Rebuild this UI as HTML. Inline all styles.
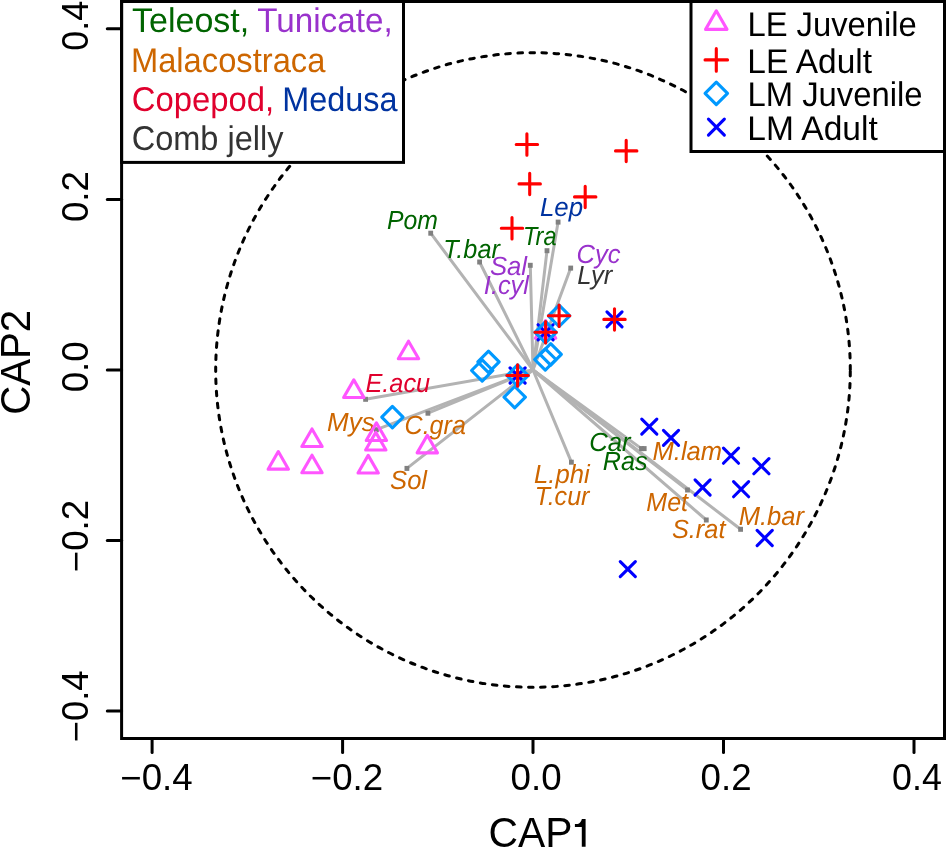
<!DOCTYPE html>
<html><head><meta charset="utf-8"><style>
html,body{margin:0;padding:0;background:#fff;width:946px;height:848px;overflow:hidden}
svg{display:block;will-change:transform}
text{font-family:"Liberation Sans",sans-serif}
.gp text{text-rendering:geometricPrecision}
</style></head><body>
<svg width="946" height="848" viewBox="0 0 946 848">
<rect x="0" y="0" width="946" height="848" fill="#fff"/>

<path d="M850.3 370A317.3 317.3 0 0 0 215.7 370A317.3 317.3 0 0 0 850.3 370" fill="none" stroke="#000" stroke-width="3" stroke-dasharray="4.6 7.515" stroke-linecap="round"/>
<g stroke="#B3B3B3" stroke-width="3" stroke-linecap="round">
<line x1="533" y1="370" x2="430.7" y2="233.2"/>
<line x1="533" y1="370" x2="479.6" y2="262"/>
<line x1="533" y1="370" x2="530.3" y2="265.3"/>
<line x1="533" y1="370" x2="547" y2="250.7"/>
<line x1="533" y1="370" x2="558.1" y2="222.1"/>
<line x1="533" y1="370" x2="570.7" y2="268.1"/>
<line x1="533" y1="370" x2="365.6" y2="399.3"/>
<line x1="533" y1="370" x2="376.4" y2="429.7"/>
<line x1="533" y1="370" x2="427.9" y2="413.2"/>
<line x1="533" y1="370" x2="406.9" y2="468.4"/>
<line x1="533" y1="370" x2="571.4" y2="462.2"/>
<line x1="533" y1="370" x2="641.5" y2="448.6"/>
<line x1="533" y1="370" x2="687.5" y2="490"/>
<line x1="533" y1="370" x2="706.3" y2="520"/>
<line x1="533" y1="370" x2="740.6" y2="529.3"/>
</g>
<rect x="428.3" y="230.7" width="4.8" height="5" fill="#808080"/>
<rect x="477.2" y="259.5" width="4.8" height="5" fill="#808080"/>
<rect x="527.9" y="262.8" width="4.8" height="5" fill="#808080"/>
<rect x="544.6" y="248.2" width="4.8" height="5" fill="#808080"/>
<rect x="555.7" y="219.6" width="4.8" height="5" fill="#808080"/>
<rect x="568.3" y="265.6" width="4.8" height="5" fill="#808080"/>
<rect x="363.2" y="396.8" width="4.8" height="5" fill="#808080"/>
<rect x="374" y="427.2" width="4.8" height="5" fill="#808080"/>
<rect x="425.5" y="410.7" width="4.8" height="5" fill="#808080"/>
<rect x="404.5" y="465.9" width="4.8" height="5" fill="#808080"/>
<rect x="569" y="459.7" width="4.8" height="5" fill="#808080"/>
<rect x="639.1" y="446.1" width="4.8" height="5" fill="#808080"/>
<rect x="685.1" y="487.5" width="4.8" height="5" fill="#808080"/>
<rect x="703.9" y="517.5" width="4.8" height="5" fill="#808080"/>
<rect x="738.2" y="526.8" width="4.8" height="5" fill="#808080"/>
<rect x="641.8" y="446.1" width="4.8" height="5" fill="#808080"/>
<g class="gp">
<text x="387.04" y="228.8" font-size="26.3" fill="#006400" font-style="italic" textLength="50.98" lengthAdjust="spacingAndGlyphs">Pom</text>
<text x="443.23" y="257.6" font-size="26.3" fill="#006400" font-style="italic" textLength="56.61" lengthAdjust="spacingAndGlyphs">T.bar</text>
<text x="489.89" y="274.7" font-size="26.3" fill="#9932CC" font-style="italic" textLength="37.16" lengthAdjust="spacingAndGlyphs">Sal</text>
<text x="483.87" y="293.5" font-size="26.3" fill="#9932CC" font-style="italic" textLength="45.08" lengthAdjust="spacingAndGlyphs">I.cyl</text>
<text x="522.99" y="244.6" font-size="26.3" fill="#006400" font-style="italic" textLength="33.54" lengthAdjust="spacingAndGlyphs">Tra</text>
<text x="539.98" y="215.8" font-size="26.3" fill="#0033A0" font-style="italic" textLength="43.09" lengthAdjust="spacingAndGlyphs">Lep</text>
<text x="576.46" y="262.5" font-size="26.3" fill="#9932CC" font-style="italic" textLength="43.96" lengthAdjust="spacingAndGlyphs">Cyc</text>
<text x="577.29" y="283.9" font-size="26.3" fill="#333333" font-style="italic" textLength="35.04" lengthAdjust="spacingAndGlyphs">Lyr</text>
<text x="365.42" y="392.1" font-size="26.3" fill="#E0002D" font-style="italic" textLength="64.81" lengthAdjust="spacingAndGlyphs">E.acu</text>
<text x="327" y="430.8" font-size="26.3" fill="#CD6600" font-style="italic" textLength="47.66" lengthAdjust="spacingAndGlyphs">Mys</text>
<text x="404.58" y="433.6" font-size="26.3" fill="#CD6600" font-style="italic" textLength="61.24" lengthAdjust="spacingAndGlyphs">C.gra</text>
<text x="390.09" y="488.9" font-size="26.3" fill="#CD6600" font-style="italic" textLength="36.96" lengthAdjust="spacingAndGlyphs">Sol</text>
<text x="534.09" y="482.9" font-size="26.3" fill="#CD6600" font-style="italic" textLength="55.58" lengthAdjust="spacingAndGlyphs">L.phi</text>
<text x="534.65" y="504.5" font-size="26.3" fill="#CD6600" font-style="italic" textLength="54.81" lengthAdjust="spacingAndGlyphs">T.cur</text>
<text x="589.15" y="451.2" font-size="26.3" fill="#006400" font-style="italic" textLength="41.41" lengthAdjust="spacingAndGlyphs">Car</text>
<text x="602.73" y="469.6" font-size="26.3" fill="#006400" font-style="italic" textLength="44.76" lengthAdjust="spacingAndGlyphs">Ras</text>
<text x="652.51" y="460.1" font-size="26.3" fill="#CD6600" font-style="italic" textLength="69.65" lengthAdjust="spacingAndGlyphs">M.lam</text>
<text x="646.33" y="510.5" font-size="26.3" fill="#CD6600" font-style="italic" textLength="41.73" lengthAdjust="spacingAndGlyphs">Met</text>
<text x="671.9" y="537.5" font-size="26.3" fill="#CD6600" font-style="italic" textLength="53.6" lengthAdjust="spacingAndGlyphs">S.rat</text>
<text x="738.72" y="524.5" font-size="26.3" fill="#CD6600" font-style="italic" textLength="65.31" lengthAdjust="spacingAndGlyphs">M.bar</text>
</g>
<path d="M408.5 341.16L418.67 358.77L398.33 358.77Z" fill="none" stroke="#FF55FF" stroke-width="3.1" stroke-linejoin="round"/>
<path d="M353.8 379.86L363.97 397.47L343.63 397.47Z" fill="none" stroke="#FF55FF" stroke-width="3.1" stroke-linejoin="round"/>
<path d="M376.4 422.86L386.57 440.47L366.23 440.47Z" fill="none" stroke="#FF55FF" stroke-width="3.1" stroke-linejoin="round"/>
<path d="M375.8 432.36L385.97 449.97L365.63 449.97Z" fill="none" stroke="#FF55FF" stroke-width="3.1" stroke-linejoin="round"/>
<path d="M312 428.96L322.17 446.57L301.83 446.57Z" fill="none" stroke="#FF55FF" stroke-width="3.1" stroke-linejoin="round"/>
<path d="M278.3 451.56L288.47 469.17L268.13 469.17Z" fill="none" stroke="#FF55FF" stroke-width="3.1" stroke-linejoin="round"/>
<path d="M312 455.16L322.17 472.77L301.83 472.77Z" fill="none" stroke="#FF55FF" stroke-width="3.1" stroke-linejoin="round"/>
<path d="M368.2 455.36L378.37 472.97L358.03 472.97Z" fill="none" stroke="#FF55FF" stroke-width="3.1" stroke-linejoin="round"/>
<path d="M427.3 435.26L437.47 452.87L417.13 452.87Z" fill="none" stroke="#FF55FF" stroke-width="3.1" stroke-linejoin="round"/>
<path d="M545.6 320.56L555.77 338.17L535.43 338.17Z" fill="none" stroke="#FF55FF" stroke-width="3.1" stroke-linejoin="round"/>
<path d="M606.95 311.85L622.05 326.95M606.95 326.95L622.05 311.85" stroke="#0000FF" stroke-width="3.1" stroke-linecap="round"/>
<path d="M641.75 419.05L656.85 434.15M641.75 434.15L656.85 419.05" stroke="#0000FF" stroke-width="3.1" stroke-linecap="round"/>
<path d="M663.45 430.35L678.55 445.45M663.45 445.45L678.55 430.35" stroke="#0000FF" stroke-width="3.1" stroke-linecap="round"/>
<path d="M723.45 448.15L738.55 463.25M723.45 463.25L738.55 448.15" stroke="#0000FF" stroke-width="3.1" stroke-linecap="round"/>
<path d="M753.85 458.65L768.95 473.75M753.85 473.75L768.95 458.65" stroke="#0000FF" stroke-width="3.1" stroke-linecap="round"/>
<path d="M695.05 479.95L710.15 495.05M695.05 495.05L710.15 479.95" stroke="#0000FF" stroke-width="3.1" stroke-linecap="round"/>
<path d="M733.55 481.65L748.65 496.75M733.55 496.75L748.65 481.65" stroke="#0000FF" stroke-width="3.1" stroke-linecap="round"/>
<path d="M757.15 530.45L772.25 545.55M757.15 545.55L772.25 530.45" stroke="#0000FF" stroke-width="3.1" stroke-linecap="round"/>
<path d="M620.25 561.55L635.35 576.65M620.25 576.65L635.35 561.55" stroke="#0000FF" stroke-width="3.1" stroke-linecap="round"/>
<path d="M538.05 324.75L553.15 339.85M538.05 339.85L553.15 324.75" stroke="#0000FF" stroke-width="3.1" stroke-linecap="round"/>
<path d="M510.05 367.95L525.15 383.05M510.05 383.05L525.15 367.95" stroke="#0000FF" stroke-width="3.1" stroke-linecap="round"/>
<path d="M548.42 315.8L559.1 305.12L569.78 315.8L559.1 326.48Z" fill="none" stroke="#0099FF" stroke-width="3.1" stroke-linejoin="round"/>
<path d="M534.92 332.3L545.6 321.62L556.28 332.3L545.6 342.98Z" fill="none" stroke="#0099FF" stroke-width="3.1" stroke-linejoin="round"/>
<path d="M534.62 359.5L545.3 348.82L555.98 359.5L545.3 370.18Z" fill="none" stroke="#0099FF" stroke-width="3.1" stroke-linejoin="round"/>
<path d="M540.02 354.4L550.7 343.72L561.38 354.4L550.7 365.08Z" fill="none" stroke="#0099FF" stroke-width="3.1" stroke-linejoin="round"/>
<path d="M477.82 361.9L488.5 351.22L499.18 361.9L488.5 372.58Z" fill="none" stroke="#0099FF" stroke-width="3.1" stroke-linejoin="round"/>
<path d="M471.52 370.5L482.2 359.82L492.88 370.5L482.2 381.18Z" fill="none" stroke="#0099FF" stroke-width="3.1" stroke-linejoin="round"/>
<path d="M506.92 375.5L517.6 364.82L528.28 375.5L517.6 386.18Z" fill="none" stroke="#0099FF" stroke-width="3.1" stroke-linejoin="round"/>
<path d="M504.02 397.2L514.7 386.52L525.38 397.2L514.7 407.88Z" fill="none" stroke="#0099FF" stroke-width="3.1" stroke-linejoin="round"/>
<path d="M381.72 417.1L392.4 406.42L403.08 417.1L392.4 427.78Z" fill="none" stroke="#0099FF" stroke-width="3.1" stroke-linejoin="round"/>
<path d="M516.22 144.5H537.58M526.9 133.82V155.18" stroke="#FF0000" stroke-width="3.1" stroke-linecap="round"/>
<path d="M615.52 150.9H636.88M626.2 140.22V161.58" stroke="#FF0000" stroke-width="3.1" stroke-linecap="round"/>
<path d="M519.02 183.9H540.38M529.7 173.22V194.58" stroke="#FF0000" stroke-width="3.1" stroke-linecap="round"/>
<path d="M574.52 196.9H595.88M585.2 186.22V207.58" stroke="#FF0000" stroke-width="3.1" stroke-linecap="round"/>
<path d="M501.32 228.2H522.68M512 217.52V238.88" stroke="#FF0000" stroke-width="3.1" stroke-linecap="round"/>
<path d="M548.42 315.8H569.78M559.1 305.12V326.48" stroke="#FF0000" stroke-width="3.1" stroke-linecap="round"/>
<path d="M534.92 332.3H556.28M545.6 321.62V342.98" stroke="#FF0000" stroke-width="3.1" stroke-linecap="round"/>
<path d="M603.82 319.4H625.18M614.5 308.72V330.08" stroke="#FF0000" stroke-width="3.1" stroke-linecap="round"/>
<path d="M506.92 375.5H528.28M517.6 364.82V386.18" stroke="#FF0000" stroke-width="3.1" stroke-linecap="round"/>
<g stroke="#000" stroke-width="3" fill="none" stroke-linecap="round">
<line x1="107.3" y1="28.8" x2="121.6" y2="28.8"/>
<line x1="107.3" y1="199.5" x2="121.6" y2="199.5"/>
<line x1="107.3" y1="370" x2="121.6" y2="370"/>
<line x1="107.3" y1="540.6" x2="121.6" y2="540.6"/>
<line x1="107.3" y1="711.1" x2="121.6" y2="711.1"/>
<line x1="152.1" y1="738.5" x2="152.1" y2="752.4"/>
<line x1="342.6" y1="738.5" x2="342.6" y2="752.4"/>
<line x1="533" y1="738.5" x2="533" y2="752.4"/>
<line x1="723.5" y1="738.5" x2="723.5" y2="752.4"/>
<line x1="914" y1="738.5" x2="914" y2="752.4"/>
</g>
<rect x="121.6" y="1.5" width="281.9" height="160.9" fill="#fff" stroke="#000" stroke-width="3"/>
<rect x="691" y="1.5" width="253.5" height="150" fill="#fff" stroke="#000" stroke-width="3"/>
<rect x="121.6" y="1.5" width="822.9" height="737" fill="none" stroke="#000" stroke-width="3"/>
<g class="gp">
<text x="132.04" y="32.2" font-size="34.3" fill="#006400" textLength="117.23" lengthAdjust="spacingAndGlyphs">Teleost,</text>
<text x="257.16" y="32.2" font-size="34.3" fill="#9932CC" textLength="135.47" lengthAdjust="spacingAndGlyphs">Tunicate,</text>
<text x="130.92" y="71.5" font-size="34.3" fill="#CD6600" textLength="194.48" lengthAdjust="spacingAndGlyphs">Malacostraca</text>
<text x="131.7" y="110.9" font-size="34.3" fill="#E0002D" textLength="142.43" lengthAdjust="spacingAndGlyphs">Copepod,</text>
<text x="282.35" y="110.9" font-size="34.3" fill="#0033A0" textLength="115.2" lengthAdjust="spacingAndGlyphs">Medusa</text>
<text x="131.72" y="149.9" font-size="34.3" fill="#333333" textLength="151.8" lengthAdjust="spacingAndGlyphs">Comb jelly</text>
</g>
<path d="M716.3 10.84L727.01 29.38L705.59 29.38Z" fill="none" stroke="#FF55FF" stroke-width="3.1" stroke-linejoin="round"/>
<path d="M705.06 59.9H727.54M716.3 48.66V71.14" stroke="#FF0000" stroke-width="3.1" stroke-linecap="round"/>
<path d="M705.06 93.4L716.3 82.16L727.54 93.4L716.3 104.64Z" fill="none" stroke="#0099FF" stroke-width="3.1" stroke-linejoin="round"/>
<path d="M708.45 119.15L724.35 135.05M708.45 135.05L724.35 119.15" stroke="#0000FF" stroke-width="3.1" stroke-linecap="round"/>
<g class="gp">
<text x="747.41" y="35.9" font-size="34.3" fill="#000" textLength="169.44" lengthAdjust="spacingAndGlyphs">LE Juvenile</text>
<text x="747.36" y="72.7" font-size="34.3" fill="#000" textLength="124.68" lengthAdjust="spacingAndGlyphs">LE Adult</text>
<text x="747.41" y="106.2" font-size="34.3" fill="#000" textLength="175.2" lengthAdjust="spacingAndGlyphs">LM Juvenile</text>
<text x="747.35" y="139.9" font-size="34.3" fill="#000" textLength="130.42" lengthAdjust="spacingAndGlyphs">LM Adult</text>
</g>
<g font-size="36" fill="#000" text-anchor="middle">
<text x="156.5" y="790.1" textLength="72.4" lengthAdjust="spacingAndGlyphs">−0.4</text>
<text x="347" y="790.1" textLength="72.4" lengthAdjust="spacingAndGlyphs">−0.2</text>
<text x="536.1" y="790.1" textLength="51.0" lengthAdjust="spacingAndGlyphs">0.0</text>
<text x="726.1" y="790.1" textLength="51.0" lengthAdjust="spacingAndGlyphs">0.2</text>
<text x="916.9" y="790.1" textLength="49.8" lengthAdjust="spacingAndGlyphs">0.4</text>
<text transform="translate(87.9 25.75) rotate(-90)" textLength="49.8" lengthAdjust="spacingAndGlyphs">0.4</text>
<text transform="translate(87.9 196.55) rotate(-90)" textLength="51.0" lengthAdjust="spacingAndGlyphs">0.2</text>
<text transform="translate(87.9 366.8) rotate(-90)" textLength="51.0" lengthAdjust="spacingAndGlyphs">0.0</text>
<text transform="translate(87.9 536) rotate(-90)" textLength="72.3" lengthAdjust="spacingAndGlyphs">−0.2</text>
<text transform="translate(87.9 706.3) rotate(-90)" textLength="71.8" lengthAdjust="spacingAndGlyphs">−0.4</text>
</g>
<text x="488.5" y="846.8" font-size="42.4" textLength="83.9" lengthAdjust="spacingAndGlyphs">CAP</text>
<path d="M574.9 824.1H577.6C579.7 823.6 581.3 821.6 581.9 819H585.6V846.8H581.8V826.9H574.9Z" fill="#000"/>
<text transform="translate(29.9 362.3) rotate(-90)" font-size="42.4" text-anchor="middle" textLength="105.1" lengthAdjust="spacingAndGlyphs">CAP2</text>
</svg>
</body></html>
